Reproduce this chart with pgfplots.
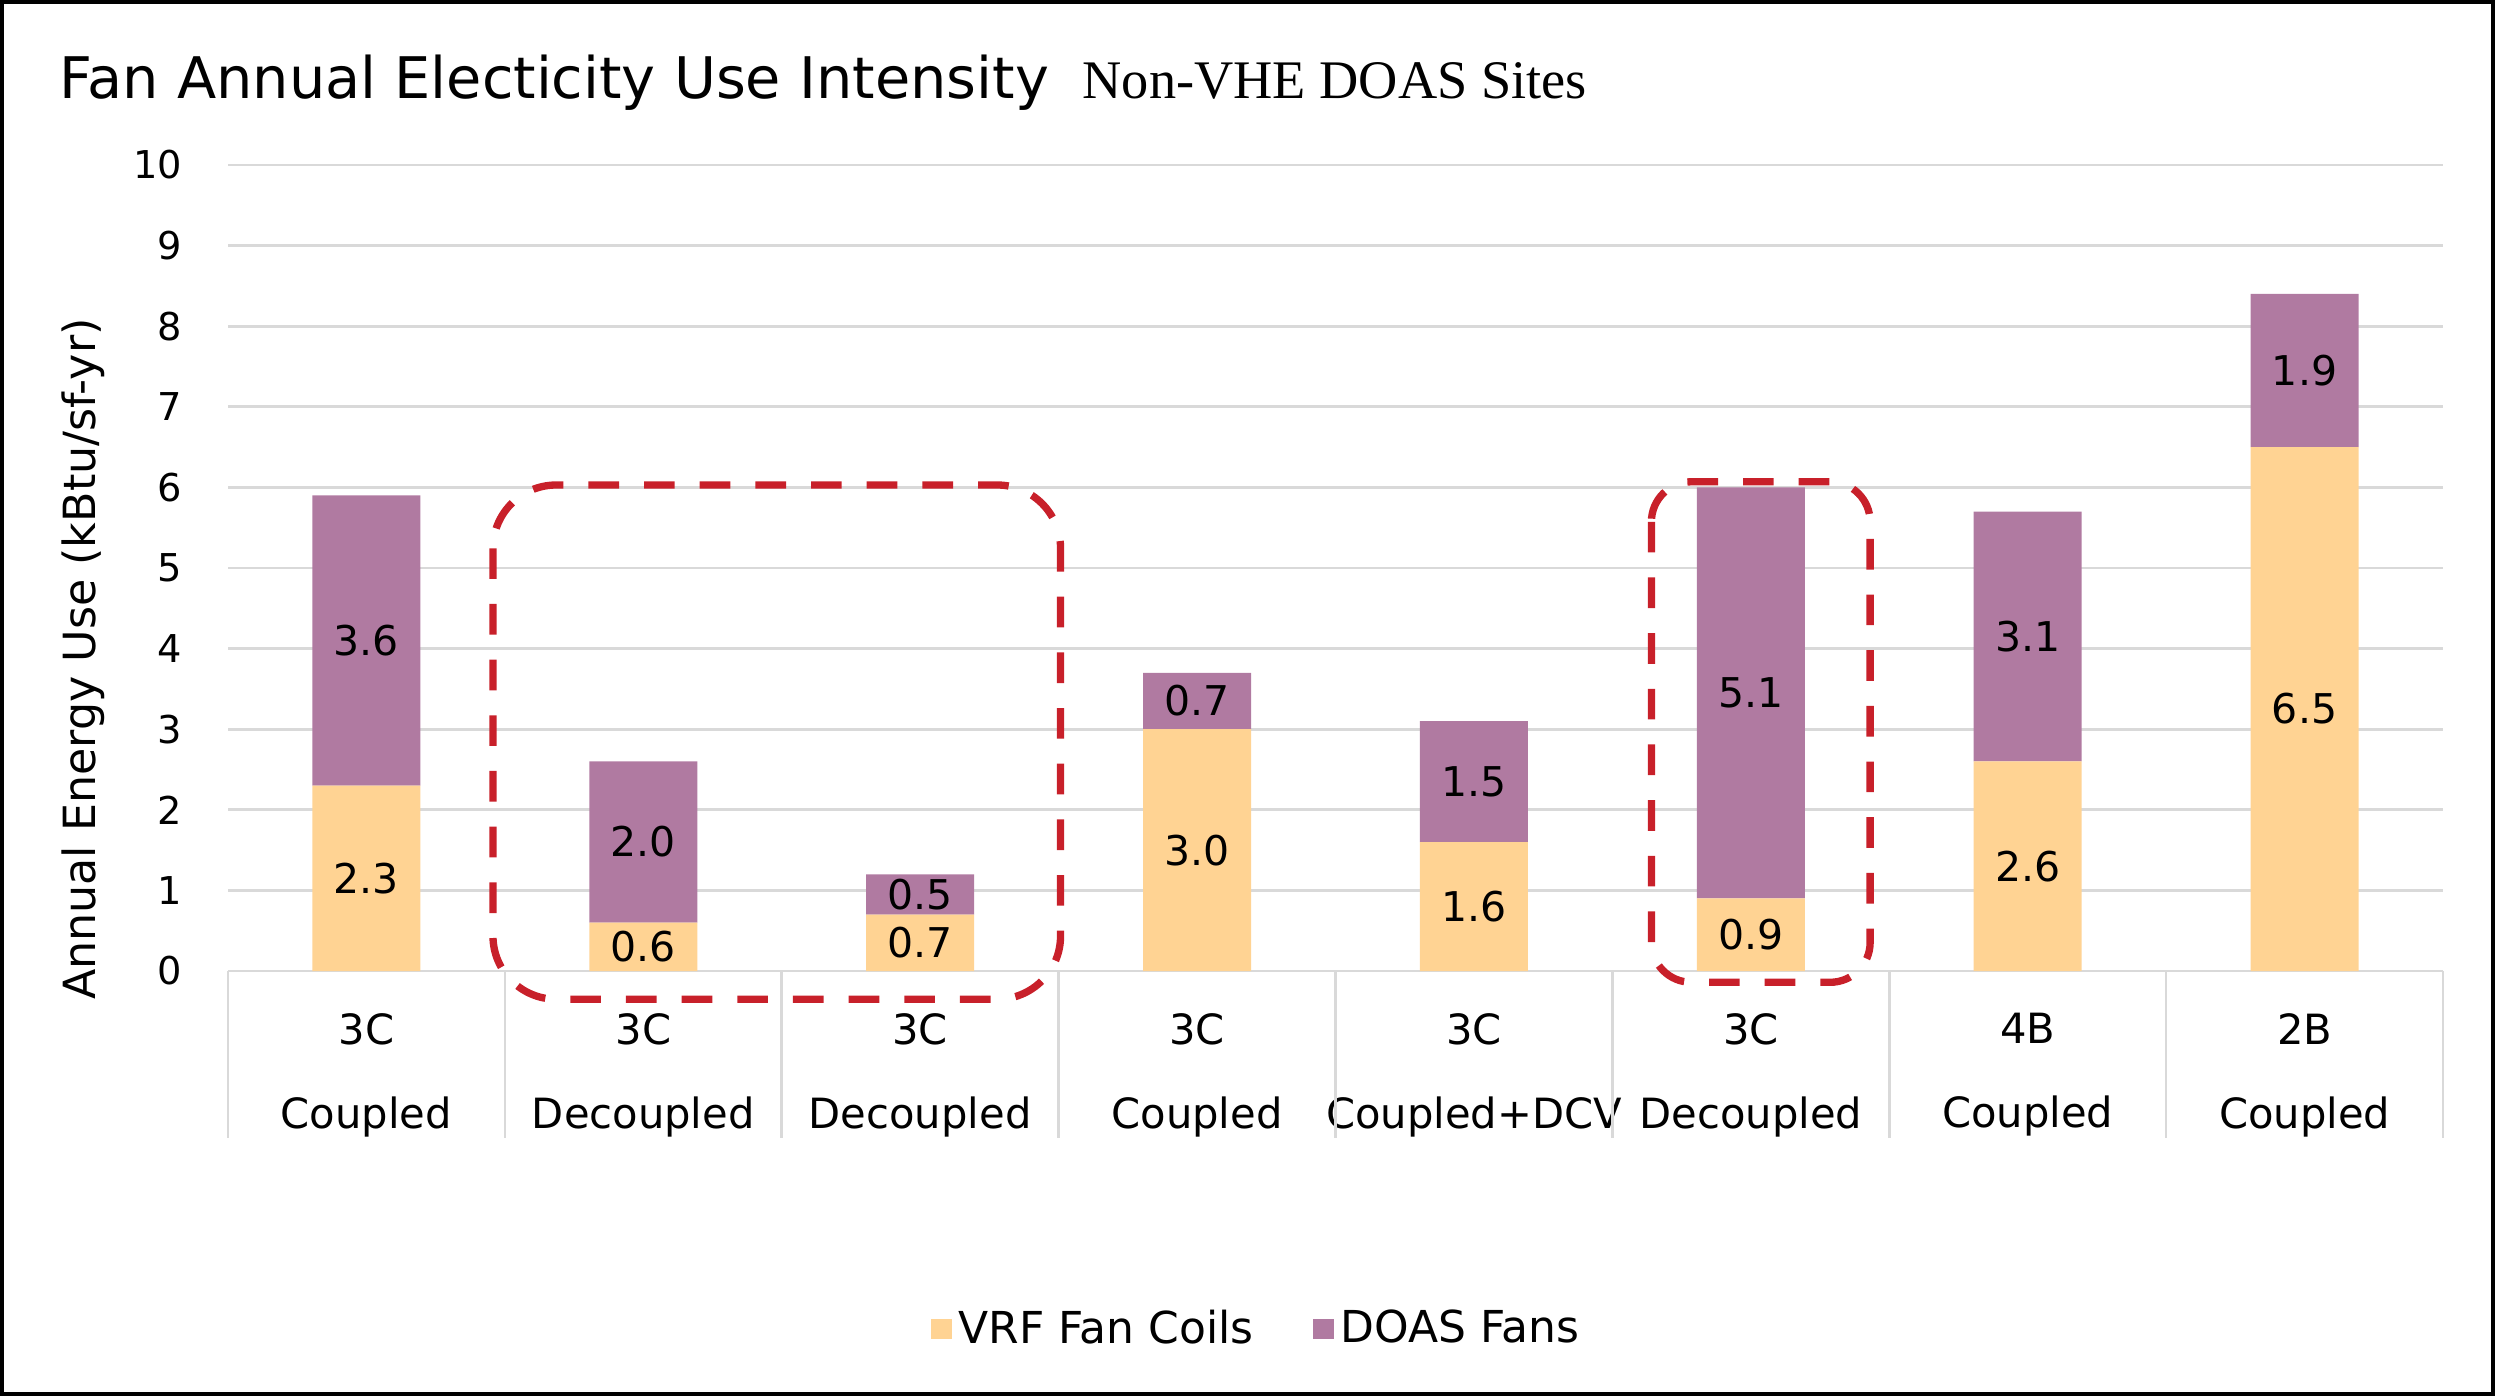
\documentclass[border=0pt]{standalone}
\usepackage{fontspec}
\setmainfont{DejaVu Sans}
\newfontfamily\seriffont{Liberation Serif}
\usepackage{pgfplots}
\pgfplotsset{compat=1.18}
\definecolor{vrf}{RGB}{255,211,147}
\definecolor{doas}{RGB}{176,122,161}
\definecolor{gridc}{RGB}{217,217,217}
\definecolor{redbox}{RGB}{200,32,42}
\begin{document}
\begin{tikzpicture}
\path[use as bounding box] (0,0) rectangle (748.5pt,418.8pt);
\draw[black, line width=1.2pt] (0.6pt,0.6pt) rectangle (747.9pt,418.2pt);
\node[anchor=base west, inner sep=0pt, font=\fontsize{17.2}{20}\selectfont] at (17.7pt,389.2pt) {Fan Annual Electicity Use Intensity};
\node[anchor=base west, inner sep=0pt, font=\seriffont\fontsize{16.3}{20}\selectfont] at (324.6pt,389.2pt) {Non-VHE DOAS Sites};
\begin{axis}[
  at={(68.4pt,127.5pt)}, anchor=south west,
  scale only axis, width=664.5pt, height=241.8pt,
  ybar stacked, bar width=32.4pt,
  xmin=-0.5, xmax=7.5, ymin=0, ymax=10,
  xtick={0,...,7},
  xticklabels={{3C\\Coupled},{3C\\Decoupled},{3C\\Decoupled},{3C\\Coupled},{3C\\Coupled+DCV},{3C\\Decoupled},{4B\\Coupled},{2B\\Coupled}},
  ytick={0,...,10},
  ymajorgrids, grid style={gridc, line width=0.8pt},
  axis line style={draw=none},
  major tick length=0pt,
  clip=false,
  /pgf/number format/assume math mode=true,
  yticklabel style={font=\fontsize{11.5}{13}\selectfont, inner sep=0pt, anchor=east, xshift=-13.5pt},
  xticklabel style={font=\fontsize{12.5}{25.2}\selectfont, align=center, inner sep=0pt, anchor=north, yshift=-12.5pt},
  ylabel={Annual Energy Use (kBtu/sf-yr)},
  ylabel style={at={([xshift=-43.5pt]rel axis cs:0,0.387)}, anchor=center, font=\fontsize{13.3}{15}\selectfont},
  nodes near coords={\pgfmathprintnumber[fixed,fixed zerofill,precision=1]{\pgfplotspointmeta}},
  every node near coord/.append style={anchor=center, font=\fontsize{12.3}{14}\selectfont, black},
  legend style={at={(rel axis cs:0.4653,-0.444)}, anchor=center, draw=none, legend columns=-1, font=\fontsize{13.2}{15}\selectfont, /tikz/every even column/.append style={column sep=16pt}},
  legend image code/.code={\fill[#1] (0pt,-3.1pt) rectangle (6.2pt,3.1pt);},
]
\addplot[fill=vrf, draw=none] coordinates {(0,2.3) (1,0.6) (2,0.7) (3,3.0) (4,1.6) (5,0.9) (6,2.6) (7,6.5)};
\addplot[fill=doas, draw=none] coordinates {(0,3.6) (1,2.0) (2,0.5) (3,0.7) (4,1.5) (5,5.1) (6,3.1) (7,1.9)};
\legend{VRF Fan Coils, DOAS Fans}
\pgfplotsinvokeforeach{-0.5,0.5,1.5,2.5,3.5,4.5,5.5,6.5,7.5}{
  \draw[gridc, line width=0.8pt] (axis cs:#1,0) -- ([yshift=-50pt]axis cs:#1,0);
}
\draw[redbox, line width=2.2pt, dash pattern=on 9.2pt off 7.5pt, rounded corners=19pt] (axis cs:0.457,6.03) rectangle (axis cs:2.507,-0.35);
\draw[redbox, line width=2.2pt, dash pattern=on 9.2pt off 7.5pt, rounded corners=12pt] (axis cs:4.641,6.07) rectangle (axis cs:5.431,-0.14);
\end{axis}
\end{tikzpicture}
\end{document}
